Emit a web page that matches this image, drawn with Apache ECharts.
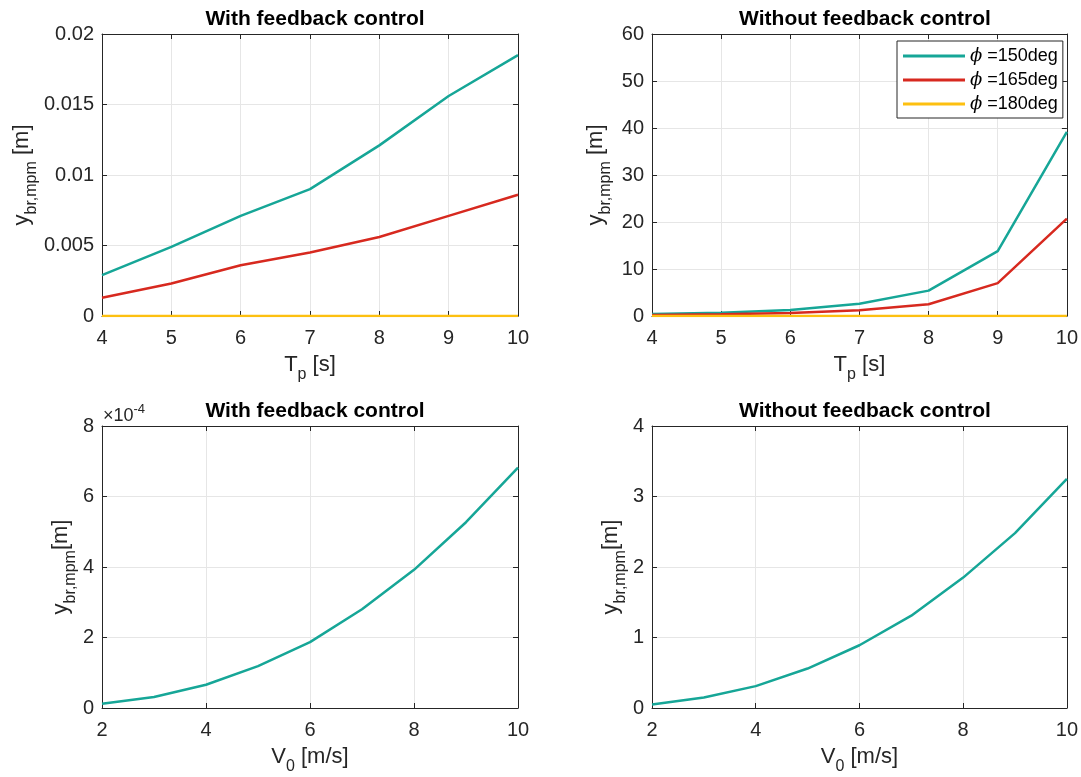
<!DOCTYPE html>
<html>
<head>
<meta charset="utf-8">
<script src="https://cdn.jsdelivr.net/npm/echarts@6/dist/echarts.min.js"></script>
<style>
html, body { margin: 0; padding: 0; background: #fff; }
#chart { width: 1081px; height: 777px; }
</style>
</head>
<body>
<div id="chart"></div>
<script>
// wave period sweep
const tpValues = [4, 5, 6, 7, 8, 9, 10]
const fbPhi150 = [0.0029, 0.0049, 0.0071, 0.0090, 0.0121, 0.0156, 0.0185]
const fbPhi165 = [0.0013, 0.0023, 0.0036, 0.0045, 0.0056, 0.0071, 0.0086]
const fbPhi180 = [0, 0, 0, 0, 0, 0, 0]
const nofbPhi150 = [0.4, 0.7, 1.3, 2.6, 5.4, 13.8, 39.2]
const nofbPhi165 = [0.2, 0.35, 0.65, 1.2, 2.5, 7.0, 20.7]
const nofbPhi180 = [0, 0, 0, 0, 0, 0, 0]
const phiLabels = ['150', '165', '180']

// forward speed sweep
const v0Values = [2, 3, 4, 5, 6, 7, 8, 9, 10]
const fbSpeed = [0.12e-4, 0.31e-4, 0.66e-4, 1.19e-4, 1.87e-4, 2.8e-4, 3.92e-4, 5.27e-4, 6.82e-4]
const nofbSpeed = [0.05, 0.15, 0.31, 0.56, 0.89, 1.31, 1.85, 2.48, 3.25]

const titles = ['With feedback control', 'Without feedback control', 'With feedback control', 'Without feedback control']

const font = 'Liberation Sans, Arial, sans-serif'
const axisColor = '#262626'
const gridColor = '#e6e6e6'
const colors = ['#16a697', '#d7291f', '#fdc010']

const grids = [
  { left: 102, top: 34, width: 416, height: 282 },
  { left: 652, top: 34, width: 416, height: 282 },
  { left: 102, top: 426, width: 416, height: 282 },
  { left: 652, top: 426, width: 416, height: 282 },
]

const nameRich = {
  b: { fontSize: 22, lineHeight: 26, verticalAlign: 'top', color: axisColor, fontFamily: font },
  s: { fontSize: 16, lineHeight: 16, padding: [13, 0, 0, 0], verticalAlign: 'top', color: axisColor, fontFamily: font }
}

const xMain = (gi, min, max, step, name) => ({
  type: 'value', gridIndex: gi, min: min, max: max, interval: step, position: 'bottom',
  name: name, nameLocation: 'middle', nameGap: 38, nameTextStyle: { rich: nameRich },
  axisLine: { show: true, onZero: false, lineStyle: { color: axisColor } },
  axisTick: { inside: true, length: 5, lineStyle: { color: axisColor } },
  axisLabel: { color: axisColor, fontSize: 20, fontFamily: font, margin: 12 },
  splitLine: { show: true, lineStyle: { color: gridColor } }
})
const xTop = (gi, min, max, step) => ({
  type: 'value', gridIndex: gi, min: min, max: max, interval: step, position: 'top',
  axisLine: { show: true, onZero: false, lineStyle: { color: axisColor } },
  axisTick: { inside: true, length: 5, lineStyle: { color: axisColor } },
  axisLabel: { show: false }, splitLine: { show: false }
})
const yMain = (gi, max, step, name, gap, fmt) => ({
  type: 'value', gridIndex: gi, min: 0, max: max, interval: step, position: 'left',
  name: name, nameLocation: 'middle', nameGap: gap, nameTextStyle: { rich: nameRich },
  axisLine: { show: true, onZero: false, lineStyle: { color: axisColor } },
  axisTick: { inside: true, length: 5, lineStyle: { color: axisColor } },
  axisLabel: { color: axisColor, fontSize: 20, fontFamily: font, margin: 8, formatter: fmt },
  splitLine: { show: true, lineStyle: { color: gridColor } }
})
const yRight = (gi, max, step) => ({
  type: 'value', gridIndex: gi, min: 0, max: max, interval: step, position: 'right',
  axisLine: { show: true, onZero: false, lineStyle: { color: axisColor } },
  axisTick: { inside: true, length: 5, lineStyle: { color: axisColor } },
  axisLabel: { show: false }, splitLine: { show: false }
})

const xName1 = '{b|T}{s|p}{b| [s]}'
const xName2 = '{b|V}{s|0}{b| [m/s]}'
const yName1 = '{b|y}{s|br,mpm}{b| [m]}'
const yName2 = '{b|y}{s|br,mpm}{b|[m]}'

const pairs = (xs, ys) => xs.map((x, i) => [x, ys[i]])

const line = (name, xi, data, color) => ({
  name: name, type: 'line', xAxisIndex: xi, yAxisIndex: xi,
  data: data, showSymbol: false, symbol: 'none',
  lineStyle: { width: 2.5, color: color }, itemStyle: { color: color },
  emphasis: { disabled: true }
})

const option = {
  animation: false,
  backgroundColor: '#fff',
  title: titles.map((t, i) => ({
    text: t, left: grids[i].left + 208, top: i < 2 ? 4 : 396, textAlign: 'center',
    textStyle: { fontSize: 21, fontWeight: 'bold', color: '#000', fontFamily: font }
  })),
  grid: grids,
  legend: {
    data: ['phi150', 'phi165', 'phi180'],
    orient: 'vertical', left: 897, top: 41,
    padding: [6, 5, 5, 6], itemGap: 6, itemWidth: 62, itemHeight: 3, icon: 'rect',
    borderColor: axisColor, borderWidth: 1, backgroundColor: '#fff',
    formatter: name => '{p|ϕ} =' + phiLabels[['phi150', 'phi165', 'phi180'].indexOf(name)] + 'deg',
    textStyle: {
      fontSize: 18, fontFamily: font, color: '#000', lineHeight: 17,
      rich: { p: { fontSize: 18, fontStyle: 'italic', fontFamily: 'DejaVu Serif', color: '#000' } }
    }
  },
  xAxis: [
    xMain(0, 4, 10, 1, xName1), xTop(0, 4, 10, 1),
    xMain(1, 4, 10, 1, xName1), xTop(1, 4, 10, 1),
    xMain(2, 2, 10, 2, xName2), xTop(2, 2, 10, 2),
    xMain(3, 2, 10, 2, xName2), xTop(3, 2, 10, 2),
  ],
  yAxis: [
    yMain(0, 0.02, 0.005, yName1, 62, v => v === 0 ? '0' : String(+v.toFixed(3))), yRight(0, 0.02, 0.005),
    yMain(1, 60, 10, yName1, 41, null), yRight(1, 60, 10),
    yMain(2, 8e-4, 2e-4, yName2, 24, v => String(Math.round(v * 1e4))), yRight(2, 8e-4, 2e-4),
    yMain(3, 4, 1, yName2, 24, null), yRight(3, 4, 1),
  ],
  graphic: [{
    type: 'text', left: 103, top: 403,
    style: {
      text: '{a|×10}{s|-4}',
      rich: {
        a: { fontSize: 18, lineHeight: 22, verticalAlign: 'bottom', fill: axisColor, fontFamily: font },
        s: { fontSize: 13, lineHeight: 13, verticalAlign: 'top', fill: axisColor, fontFamily: font }
      }
    }
  }],
  series: [
    line('phi150', 0, pairs(tpValues, fbPhi150), colors[0]),
    line('phi165', 0, pairs(tpValues, fbPhi165), colors[1]),
    line('phi180', 0, pairs(tpValues, fbPhi180), colors[2]),
    line('phi150', 2, pairs(tpValues, nofbPhi150), colors[0]),
    line('phi165', 2, pairs(tpValues, nofbPhi165), colors[1]),
    line('phi180', 2, pairs(tpValues, nofbPhi180), colors[2]),
    line('speed1', 4, pairs(v0Values, fbSpeed), colors[0]),
    line('speed2', 6, pairs(v0Values, nofbSpeed), colors[0]),
  ]
}

const chart = echarts.init(document.getElementById('chart'))
chart.setOption(option)
</script>
</body>
</html>
